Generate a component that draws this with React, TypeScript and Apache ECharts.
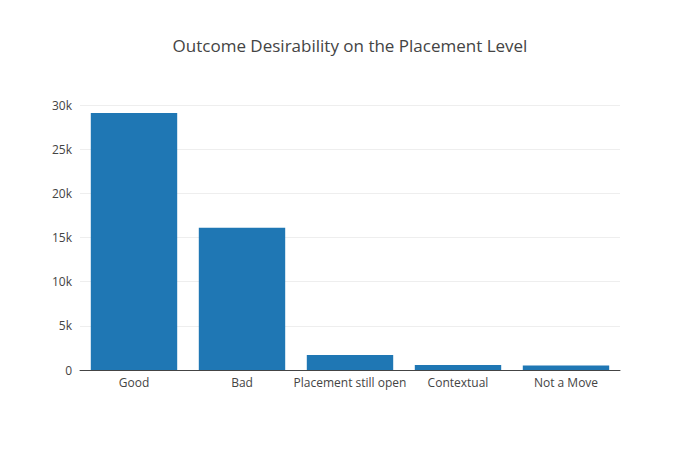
import React, { useEffect, useRef } from "react";
import * as echarts from "echarts";

const categories = ["Good", "Bad", "Placement still open", "Contextual", "Not a Move"];
const values = [29100, 16100, 1700, 560, 500];

export default function App() {
  const ref = useRef<HTMLDivElement>(null);
  useEffect(() => {
    document.body.style.margin = "0";
    const chart = echarts.init(ref.current!, null, { renderer: "svg" });
    chart.setOption({
      animation: false,
      backgroundColor: "#fff",
      title: {
        text: "Outcome Desirability on the Placement Level",
        left: "center",
        top: 32,
        textStyle: { fontFamily: "Open Sans", fontSize: 17, fontWeight: "normal", color: "#444" },
      },
      grid: { left: 80, right: 80, top: 105, bottom: 80 },
      xAxis: {
        type: "category",
        data: categories,
        axisLine: { lineStyle: { color: "#444" } },
        axisTick: { show: false },
        axisLabel: { fontFamily: "Open Sans", fontSize: 12, color: "#444", margin: 6, interval: 0 },
      },
      yAxis: {
        type: "value",
        min: 0,
        max: 30000,
        interval: 5000,
        axisLine: { show: false },
        axisTick: { show: false },
        splitLine: { lineStyle: { color: "#eee" } },
        axisLabel: {
          fontFamily: "Open Sans",
          fontSize: 12,
          color: "#444",
          formatter: (v: number) => (v === 0 ? "0" : v / 1000 + "k"),
        },
      },
      series: [
        {
          type: "bar",
          data: values,
          barCategoryGap: "20%",
          itemStyle: { color: "#1f77b4" },
        },
      ],
    });
    return () => chart.dispose();
  }, []);
  return <div ref={ref} style={{ width: 700, height: 450 }} />;
}
